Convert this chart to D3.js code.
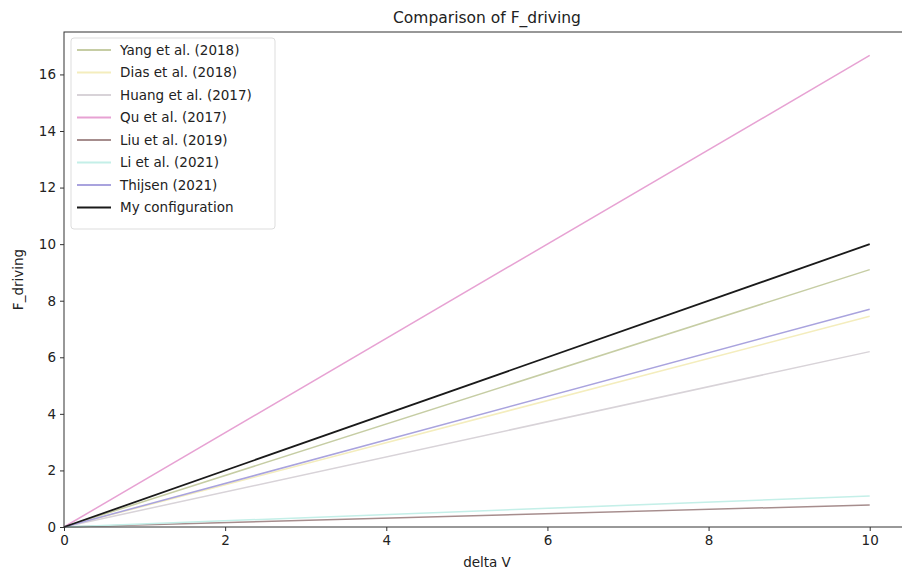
<!DOCTYPE html>
<html>
<head>
<meta charset="utf-8">
<script src="https://cdn.jsdelivr.net/npm/d3@7"></script>
<style>
  body { margin: 0; background: #fff; }
  svg { display: block; font-family: "DejaVu Sans", sans-serif; }
</style>
</head>
<body>
<svg id="chart" width="902" height="576"></svg>
<script>
// series: each line runs from delta V = 0 to 10
var deltaV = [0, 10];
var names = ['Yang et al. (2018)', 'Dias et al. (2018)', 'Huang et al. (2017)', 'Qu et al. (2017)',
  'Liu et al. (2019)', 'Li et al. (2021)', 'Thijsen (2021)', 'My configuration'];
var endValues = [9.1, 7.45, 6.2, 16.67, 0.78, 1.1, 7.7, 10.0];
var colors = ['#c6cda4', '#f4edbd', '#d8d3d8', '#e7a2d3', '#a68d8d', '#c4efe8', '#a9a3de', '#1a1a1a'];
var xTicks = [0, 2, 4, 6, 8, 10];
var yTicks = [0, 2, 4, 6, 8, 10, 12, 14, 16];

var margin = { left: 64, top: 32, right: 910, bottom: 527 };

var svg = d3.select('#chart');

var x = d3.scaleLinear().domain([0, 10.5]).range([margin.left, margin.right]);
var y = d3.scaleLinear().domain([0, 17.5]).range([margin.bottom, margin.top]);

var series = names.map(function (n, i) {
  return { name: n, color: colors[i], values: deltaV.map(function (v) { return [v, endValues[i] * v / 10]; }) };
});

var line = d3.line()
  .x(function (d) { return x(d[0]); })
  .y(function (d) { return y(d[1]); });

svg.append('g').selectAll('path').data(series).enter().append('path')
  .attr('d', function (d) { return line(d.values); })
  .attr('fill', 'none')
  .attr('stroke', function (d) { return d.color; })
  .attr('stroke-width', function (d, i) { return i === 7 ? 1.8 : 1.5; });

// axes
var xAxis = svg.append('g').attr('transform', 'translate(0,' + margin.bottom + ')')
  .call(d3.axisBottom(x).tickValues(xTicks).tickSize(4).tickPadding(4).tickFormat(d3.format('d')));
var yAxis = svg.append('g').attr('transform', 'translate(' + margin.left + ',0)')
  .call(d3.axisLeft(y).tickValues(yTicks).tickSize(4).tickPadding(4).tickFormat(d3.format('d')));

[xAxis, yAxis].forEach(function (a) {
  a.select('.domain').remove();
  a.selectAll('line').attr('stroke', '#333');
  a.selectAll('text').attr('fill', '#222').style('font-size', '13.5px').style('font-family', '"DejaVu Sans", sans-serif');
});

// frame
svg.append('rect')
  .attr('x', margin.left).attr('y', margin.top)
  .attr('width', margin.right - margin.left).attr('height', margin.bottom - margin.top)
  .attr('fill', 'none').attr('stroke', '#333').attr('stroke-width', 1);

// labels
svg.append('text').attr('x', (margin.left + margin.right) / 2).attr('y', 23)
  .attr('text-anchor', 'middle').attr('fill', '#222').style('font-size', '15.5px')
  .text('Comparison of F_driving');
svg.append('text').attr('x', (margin.left + margin.right) / 2).attr('y', 567)
  .attr('text-anchor', 'middle').attr('fill', '#222').style('font-size', '13.5px')
  .text('delta V');
svg.append('text').attr('transform', 'translate(23,' + ((margin.top + margin.bottom) / 2) + ') rotate(-90)')
  .attr('text-anchor', 'middle').attr('fill', '#222').style('font-size', '13.5px')
  .text('F_driving');

// legend
var legend = svg.append('g').attr('transform', 'translate(71,38)');
legend.append('rect').attr('width', 204).attr('height', 191).attr('rx', 3)
  .attr('fill', '#fff').attr('fill-opacity', 0.85).attr('stroke', '#ddd');
var items = legend.selectAll('g.item').data(series).enter().append('g')
  .attr('transform', function (d, i) { return 'translate(0,' + (12 + i * 22.5) + ')'; });
items.append('line').attr('x1', 6).attr('x2', 40).attr('y1', 0).attr('y2', 0)
  .attr('stroke', function (d) { return d.color; })
  .attr('stroke-width', 2);
items.append('text').attr('x', 49).attr('y', 4.5).attr('fill', '#222').style('font-size', '13.5px')
  .text(function (d) { return d.name; });
</script>
</body>
</html>
